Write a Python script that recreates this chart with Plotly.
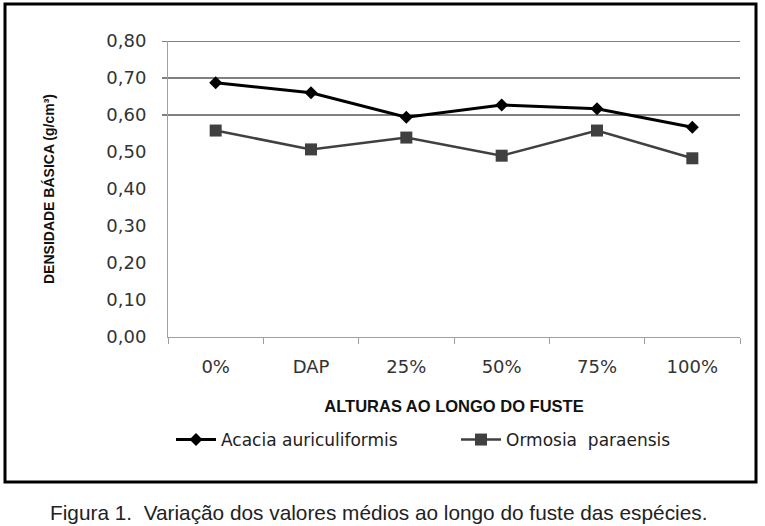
import plotly.graph_objects as go

categories = ["0%", "DAP", "25%", "50%", "75%", "100%"]
acacia = [0.687, 0.660, 0.594, 0.627, 0.617, 0.567]
ormosia = [0.558, 0.507, 0.539, 0.490, 0.558, 0.483]
y_ticks = [0.0, 0.1, 0.2, 0.3, 0.4, 0.5, 0.6, 0.7, 0.8]
grid_values = [0.6, 0.7, 0.8]

L, R, T, B = 168, 25, 41, 189
W, H = 765, 526
pw, ph = W - L - R, H - T - B

def px_x(p):
    return (p - L) / pw

def px_y(p):
    return (H - B - p) / ph

fig = go.Figure()
fig.add_trace(go.Scatter(
    x=categories, y=acacia, name="Acacia auriculiformis", mode="lines+markers",
    line=dict(color="#000000", width=3),
    marker=dict(symbol="diamond", size=10, color="#000000"),
))
fig.add_trace(go.Scatter(
    x=categories, y=ormosia, name="Ormosia  paraensis", mode="lines+markers",
    line=dict(color="#404040", width=2.5),
    marker=dict(symbol="square", size=12, color="#404040"),
))

shapes = []
for g in grid_values:
    shapes.append(dict(type="line", xref="paper", yref="y", x0=px_x(162), x1=1.0,
                       y0=g, y1=g, line=dict(color="#808080", width=2), layer="below"))
shapes.append(dict(type="rect", xref="paper", yref="paper",
                   x0=px_x(5), x1=px_x(756), y0=px_y(482), y1=px_y(4),
                   line=dict(color="#000000", width=3)))

fig.update_layout(
    width=W, height=H,
    margin=dict(l=L, r=R, t=T, b=B),
    paper_bgcolor="white", plot_bgcolor="white",
    separators=", ",
    showlegend=True,
    legend=dict(orientation="h", x=px_x(456), xanchor="center", y=px_y(440), yanchor="middle",
                font=dict(family="DejaVu Sans", size=17, color="#222222"),
                itemwidth=40, tracegroupgap=0, entrywidth=230, entrywidthmode="pixels"),
    shapes=shapes,
    xaxis=dict(
        type="category", range=[-0.5, 5.5], showgrid=False, showline=True,
        linecolor="#a0a0a0", linewidth=1,
        ticks="outside", tickson="boundaries", ticklen=6, tickcolor="#a0a0a0",
        ticklabelstandoff=13,
        tickfont=dict(family="DejaVu Sans", size=18, color="#333333"),
        title=dict(text="<b>ALTURAS AO LONGO DO FUSTE</b>", standoff=24,
                   font=dict(family="Liberation Sans Narrow, Liberation Sans", size=16.5, color="#111111")),
        fixedrange=True,
    ),
    yaxis=dict(
        range=[0, 0.8], tickvals=y_ticks, tickformat=".2f", showgrid=False,
        showline=True, linecolor="#a0a0a0", linewidth=1, zeroline=False,
        ticks="outside", ticklen=17, tickcolor="rgba(0,0,0,0)",
        tickfont=dict(family="DejaVu Sans", size=18, color="#333333"),
        title=dict(text="<b>DENSIDADE BÁSICA (g/cm³)</b>", standoff=48,
                   font=dict(family="Liberation Sans Narrow, Liberation Sans", size=14, color="#111111")),
        fixedrange=True,
    ),
    annotations=[dict(
        text="Figura 1.  Variação dos valores médios ao longo do fuste das espécies.",
        xref="paper", yref="paper", x=px_x(378), y=px_y(512), xanchor="center", yanchor="middle",
        showarrow=False, font=dict(family="Liberation Sans", size=20.8, color="#222222"),
    )],
)

fig.write_html("out.html", config={"displayModeBar": False},
               post_script="document.body.style.margin='0px';document.body.style.overflow='hidden';")
